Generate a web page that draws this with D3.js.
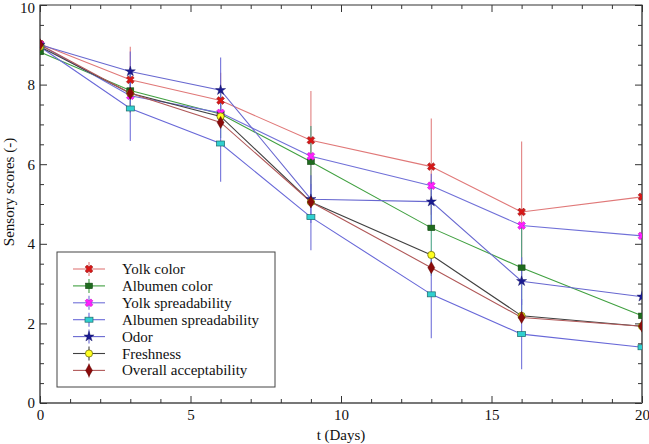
<!DOCTYPE html>
<html>
<head>
<meta charset="utf-8">
<script src="https://cdn.jsdelivr.net/npm/d3@7/dist/d3.min.js"></script>
<style>
body{margin:0;background:#fff;}
svg{display:block;}
text{font-family:"Liberation Serif","Times New Roman",serif;}
</style>
</head>
<body>
<svg id="c" width="649" height="444"></svg>
<script>
const days = [0, 3, 6, 9, 13, 16, 20];
const seriesNames = ["Yolk color","Albumen color","Yolk spreadability","Albumen spreadability","Odor","Freshness","Overall acceptability"];
const yolkColor   = [9.02, 8.12, 7.60, 6.60, 5.94, 4.80, 5.18];
const albumenColor= [8.82, 7.85, 7.26, 6.06, 4.40, 3.40, 2.19];
const yolkSpread  = [9.00, 7.72, 7.29, 6.20, 5.46, 4.46, 4.20];
const albumenSpread=[8.95, 7.40, 6.52, 4.67, 2.73, 1.73, 1.40];
const odor        = [9.00, 8.33, 7.86, 5.12, 5.06, 3.06, 2.67];
const freshness   = [8.95, 7.78, 7.20, 5.05, 3.72, 2.19, 1.93];
const overall     = [9.00, 7.78, 7.05, 5.05, 3.40, 2.15, 1.93];
// error bar half-widths (0 = not drawn)
const yolkColorErr    = [0, 0.83, 0.70, 1.24, 1.21, 1.77, 0];
const albumenColorErr = [0, 0.55, 0.60, 0.90, 1.20, 1.10, 0];
const albumenSpreadErr= [0, 0.82, 0.96, 0.83, 1.10, 0.88, 0];
const odorErr         = [0, 0.50, 0.82, 0.60, 0.70, 0.60, 0];
const xTicks = [0, 5, 10, 15, 20];
const yTicks = [0, 2, 4, 6, 8, 10];

const styles = [
  {line:"#e07878", fill:"#d81818", stroke:"#901010", sym:"x"},
  {line:"#40a040", fill:"#1f6b1f", stroke:"#0f400f", sym:"sq"},
  {line:"#7070d8", fill:"#ff20ff", stroke:"#c000c0", sym:"x"},
  {line:"#6868d8", fill:"#30d0d0", stroke:"#206868", sym:"rect"},
  {line:"#6868d0", fill:"#1a1a90", stroke:"#101060", sym:"star"},
  {line:"#404040", fill:"#ffff20", stroke:"#606000", sym:"circle"},
  {line:"#b05858", fill:"#8b0a0a", stroke:"#500000", sym:"diamond"}
];
const data = [yolkColor, albumenColor, yolkSpread, albumenSpread, odor, freshness, overall];
const errs = [yolkColorErr, albumenColorErr, null, albumenSpreadErr, odorErr, null, null];
const errColors = ["#e07878", "#40a080", null, "#6868d8", "#6868d8", null, null];

const svg = d3.select("#c");
const L = 40, R = 642, T = 5, B = 403;
const x = d3.scaleLinear().domain([0,20]).range([L,R]);
const y = d3.scaleLinear().domain([0,10]).range([B,T]);

// frame
svg.append("rect").attr("x",L).attr("y",T).attr("width",R-L).attr("height",B-T)
  .attr("fill","none").attr("stroke","#333").attr("stroke-width",1);
svg.append("line").attr("x1",L).attr("x2",L).attr("y1",T).attr("y2",B).attr("stroke","#777").attr("stroke-width",2);
svg.append("line").attr("x1",L).attr("x2",R).attr("y1",B).attr("y2",B).attr("stroke","#777").attr("stroke-width",2);
svg.append("line").attr("x1",R).attr("x2",R).attr("y1",T).attr("y2",B).attr("stroke","#777").attr("stroke-width",2);

// axes with inward ticks
const minorX = d3.range(0,21,1).filter(v=>v%5);
const minorY = d3.range(0.5,10,0.5).filter(v=>v%2);
svg.append("g").attr("transform",`translate(0,${B})`)
  .call(d3.axisBottom(x).tickValues(xTicks).tickSize(-7).tickPadding(6).tickFormat(d3.format("d")));
svg.append("g").attr("transform",`translate(0,${B})`).call(d3.axisBottom(x).tickValues(minorX).tickSize(-4).tickFormat(""));
svg.append("g").attr("transform",`translate(0,${T})`).call(d3.axisTop(x).tickValues(xTicks).tickSize(-7).tickFormat(""));
svg.append("g").attr("transform",`translate(0,${T})`).call(d3.axisTop(x).tickValues(minorX).tickSize(-4).tickFormat(""));
const gL = svg.append("g").attr("transform",`translate(${L},0)`)
  .call(d3.axisLeft(y).tickValues(yTicks).tickSize(-7).tickPadding(5).tickFormat(d3.format("d")));
svg.append("g").attr("transform",`translate(${L},0)`).call(d3.axisLeft(y).tickValues(minorY).tickSize(-4).tickFormat(""));
svg.append("g").attr("transform",`translate(${R},0)`).call(d3.axisRight(y).tickValues(yTicks).tickSize(-7).tickFormat(""));
svg.append("g").attr("transform",`translate(${R},0)`).call(d3.axisRight(y).tickValues(minorY).tickSize(-4).tickFormat(""));
svg.selectAll(".domain").remove();
svg.selectAll(".tick line").attr("stroke","#333");
svg.selectAll(".tick text").attr("font-size",15).attr("fill","#111")
  .attr("font-family",'"Liberation Serif","Times New Roman",serif');
gL.selectAll(".tick text").filter(d=>d===10).attr("dy","0.5em");

// axis titles
svg.append("text").attr("x",x(10)).attr("y",440).attr("text-anchor","middle")
  .attr("font-size",15).attr("fill","#111").text("t (Days)");
svg.append("text").attr("transform",`translate(14,192) rotate(-90)`).attr("text-anchor","middle")
  .attr("font-size",15).attr("fill","#111").text("Sensory scores (-)");

// error bars
errs.forEach((e,i)=>{
  if(!e) return;
  days.forEach((d,j)=>{
    if(!e[j]) return;
    svg.append("line").attr("x1",x(d)).attr("x2",x(d))
      .attr("y1",y(data[i][j]+e[j])).attr("y2",y(data[i][j]-e[j]))
      .attr("stroke",errColors[i]).attr("stroke-width",1.2).attr("opacity",0.85);
  });
});

// lines
const lineGen = d3.line().x((v,j)=>x(days[j])).y(v=>y(v));
data.forEach((s,i)=>{
  svg.append("path").attr("d",lineGen(s)).attr("fill","none")
    .attr("stroke",styles[i].line).attr("stroke-width",1.1);
});

function drawSym(g, st, cx, cy){
  const s = st.sym;
  if(s==="x"){
    g.append("path").attr("d",d3.symbol().type(d3.symbolCross).size(38)())
      .attr("transform",`translate(${cx},${cy}) rotate(45)`)
      .attr("fill",st.fill).attr("stroke",st.stroke).attr("stroke-width",0.5);
  } else if(s==="sq"){
    g.append("rect").attr("x",cx-3.5).attr("y",cy-2.8).attr("width",7).attr("height",5.6)
      .attr("fill",st.fill).attr("stroke",st.stroke).attr("stroke-width",0.5);
  } else if(s==="rect"){
    g.append("rect").attr("x",cx-4).attr("y",cy-2.5).attr("width",8).attr("height",5)
      .attr("fill",st.fill).attr("stroke",st.stroke).attr("stroke-width",0.7);
  } else if(s==="star"){
    g.append("path").attr("d",d3.symbol().type(d3.symbolStar).size(32)())
      .attr("transform",`translate(${cx},${cy})`)
      .attr("fill",st.fill).attr("stroke",st.stroke).attr("stroke-width",0.4);
  } else if(s==="circle"){
    g.append("circle").attr("cx",cx).attr("cy",cy).attr("r",3.6)
      .attr("fill",st.fill).attr("stroke",st.stroke).attr("stroke-width",0.7);
  } else if(s==="diamond"){
    g.append("path").attr("d",d3.symbol().type(d3.symbolDiamond).size(42)())
      .attr("transform",`translate(${cx},${cy})`)
      .attr("fill",st.fill).attr("stroke",st.stroke).attr("stroke-width",0.4);
  }
}

// markers (clip at plot area)
svg.append("clipPath").attr("id","clp").append("rect").attr("x",L).attr("y",T-10).attr("width",R-L).attr("height",B-T+20);
const mg = svg.append("g").attr("clip-path","url(#clp)");
data.forEach((s,i)=>{
  s.forEach((v,j)=> drawSym(mg, styles[i], x(days[j]), y(v)));
});

// legend
const lg = svg.append("g");
lg.append("rect").attr("x",57).attr("y",252).attr("width",218).attr("height",135)
  .attr("fill","#fff").attr("stroke","#444").attr("stroke-width",1);
seriesNames.forEach((n,i)=>{
  const cy = 269 + i*16.9;
  lg.append("line").attr("x1",73).attr("x2",105).attr("y1",cy).attr("y2",cy)
    .attr("stroke",styles[i].line).attr("stroke-width",1.1);
  lg.append("line").attr("x1",89).attr("x2",89).attr("y1",cy-7).attr("y2",cy+7)
    .attr("stroke",styles[i].line).attr("stroke-width",1.1);
  drawSym(lg, styles[i], 89, cy);
  lg.append("text").attr("x",122).attr("y",cy+5).attr("font-size",15).attr("fill","#111").text(n);
});
</script>
</body>
</html>
